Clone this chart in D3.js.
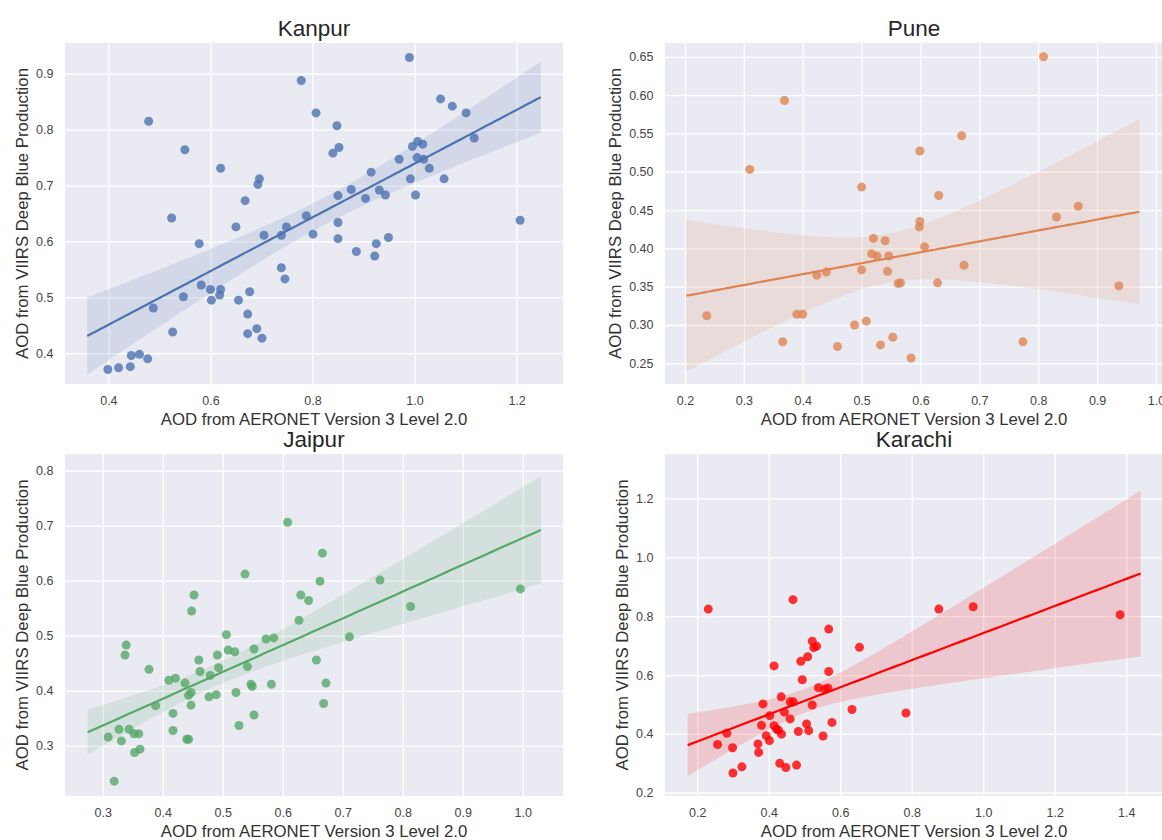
<!DOCTYPE html>
<html>
<head>
<meta charset="utf-8">
<script src="https://cdnjs.cloudflare.com/ajax/libs/d3/7.8.5/d3.min.js"></script>
<style>
    body { margin: 0; background: #ffffff; }
    text { font-family: "Liberation Sans", Arial, sans-serif; }
</style>
</head>
<body>
<div id="chart-area"></div>
<script>
/*
*    regression panels: AERONET vs VIIRS AOD
*/

var kanpurX = [0.399, 0.42, 0.443, 0.445, 0.461, 0.477, 0.479, 0.488, 0.524, 0.526,
    0.547, 0.55, 0.578, 0.582, 0.600, 0.602, 0.620, 0.620, 0.618, 0.650,
    0.655, 0.668, 0.673, 0.677, 0.673, 0.691, 0.701, 0.693, 0.696, 0.705,
    0.739, 0.746, 0.739, 0.749, 0.778, 0.788, 0.801, 0.807, 0.848, 0.840,
    0.852, 0.850, 0.850, 0.850, 0.876, 0.886, 0.904, 0.915, 0.931, 0.943,
    0.925, 0.922, 0.949, 0.970, 0.990, 0.992, 0.996, 1.006, 1.016, 1.005,
    1.018, 1.002, 1.029, 1.058, 1.051, 1.074, 1.101, 1.117, 1.207];
var kanpurY = [0.371, 0.374, 0.376, 0.396, 0.398, 0.390, 0.815, 0.481, 0.642, 0.438,
    0.501, 0.764, 0.596, 0.522, 0.514, 0.495, 0.731, 0.514, 0.504, 0.626,
    0.495, 0.673, 0.470, 0.510, 0.435, 0.444, 0.427, 0.702, 0.712, 0.611,
    0.553, 0.533, 0.611, 0.626, 0.888, 0.646, 0.613, 0.830, 0.807, 0.758,
    0.768, 0.682, 0.634, 0.605, 0.693, 0.582, 0.677, 0.724, 0.692, 0.683,
    0.596, 0.574, 0.607, 0.747, 0.929, 0.712, 0.770, 0.779, 0.774, 0.750,
    0.747, 0.683, 0.731, 0.712, 0.855, 0.842, 0.830, 0.785, 0.638];

var puneX = [0.237, 0.310, 0.369, 0.366, 0.390, 0.400, 0.424, 0.440, 0.459, 0.488,
    0.500, 0.500, 0.508, 0.520, 0.517, 0.526, 0.532, 0.540, 0.546, 0.544,
    0.553, 0.562, 0.566, 0.584, 0.599, 0.599, 0.598, 0.607, 0.631, 0.629,
    0.670, 0.674, 0.774, 0.809, 0.831, 0.868, 0.937];
var puneY = [0.312, 0.503, 0.593, 0.278, 0.314, 0.314, 0.365, 0.369, 0.272, 0.300,
    0.480, 0.372, 0.305, 0.413, 0.393, 0.390, 0.274, 0.410, 0.390, 0.370,
    0.284, 0.354, 0.355, 0.257, 0.527, 0.435, 0.428, 0.402, 0.469, 0.355,
    0.547, 0.378, 0.278, 0.650, 0.441, 0.455, 0.351];

var jaipurX = [0.309, 0.327, 0.331, 0.319, 0.339, 0.337, 0.344, 0.352, 0.360, 0.353,
    0.362, 0.377, 0.388, 0.410, 0.421, 0.417, 0.417, 0.437, 0.440, 0.443,
    0.443, 0.447, 0.447, 0.448, 0.452, 0.460, 0.462, 0.477, 0.479, 0.489,
    0.491, 0.493, 0.506, 0.509, 0.520, 0.522, 0.527, 0.537, 0.541, 0.547,
    0.549, 0.552, 0.552, 0.572, 0.585, 0.581, 0.608, 0.627, 0.630, 0.643,
    0.656, 0.662, 0.666, 0.672, 0.668, 0.711, 0.762, 0.813, 0.996];
var jaipurY = [0.316, 0.330, 0.309, 0.236, 0.483, 0.465, 0.330, 0.322, 0.322, 0.288,
    0.294, 0.439, 0.373, 0.419, 0.423, 0.359, 0.328, 0.414, 0.312, 0.312,
    0.392, 0.397, 0.374, 0.545, 0.574, 0.456, 0.435, 0.389, 0.428, 0.393,
    0.465, 0.442, 0.502, 0.474, 0.471, 0.397, 0.337, 0.612, 0.444, 0.412,
    0.408, 0.476, 0.356, 0.494, 0.496, 0.412, 0.706, 0.528, 0.574, 0.564,
    0.456, 0.599, 0.650, 0.414, 0.377, 0.498, 0.601, 0.553, 0.585];

var karachiX = [0.231, 0.257, 0.283, 0.299, 0.300, 0.325, 0.370, 0.372, 0.384, 0.380,
    0.393, 0.402, 0.403, 0.415, 0.415, 0.422, 0.427, 0.436, 0.435, 0.431,
    0.448, 0.444, 0.460, 0.460, 0.469, 0.468, 0.478, 0.483, 0.494, 0.490,
    0.509, 0.506, 0.512, 0.522, 0.526, 0.534, 0.522, 0.539, 0.552, 0.557,
    0.566, 0.568, 0.568, 0.577, 0.633, 0.654, 0.784, 0.876, 0.972, 1.383];
var karachiY = [0.824, 0.364, 0.402, 0.353, 0.267, 0.288, 0.366, 0.337, 0.502, 0.429,
    0.394, 0.377, 0.462, 0.631, 0.428, 0.416, 0.413, 0.399, 0.526, 0.300,
    0.286, 0.474, 0.451, 0.509, 0.509, 0.856, 0.294, 0.408, 0.584, 0.647,
    0.662, 0.434, 0.411, 0.715, 0.693, 0.698, 0.498, 0.557, 0.393, 0.552,
    0.556, 0.612, 0.756, 0.439, 0.483, 0.694, 0.471, 0.824, 0.832, 0.805];

// axis limits and tick values
var kanpurXLim = [0.315, 1.291], kanpurYLim = [0.345, 0.955];
var puneXLim = [0.166, 1.012], puneYLim = [0.223, 0.668];
var jaipurXLim = [0.237, 1.067], jaipurYLim = [0.209, 0.830];
var karachiXLim = [0.110, 1.503], karachiYLim = [0.189, 1.351];

var kanpurXTicks = [0.4, 0.6, 0.8, 1.0, 1.2];
var kanpurYTicks = [0.4, 0.5, 0.6, 0.7, 0.8, 0.9];
var puneXTicks = [0.2, 0.3, 0.4, 0.5, 0.6, 0.7, 0.8, 0.9, 1.0];
var puneYTicks = [0.25, 0.30, 0.35, 0.40, 0.45, 0.50, 0.55, 0.60, 0.65];
var jaipurXTicks = [0.3, 0.4, 0.5, 0.6, 0.7, 0.8, 0.9, 1.0];
var jaipurYTicks = [0.3, 0.4, 0.5, 0.6, 0.7, 0.8];
var karachiXTicks = [0.2, 0.4, 0.6, 0.8, 1.0, 1.2, 1.4];
var karachiYTicks = [0.2, 0.4, 0.6, 0.8, 1.0, 1.2];

var xLabel = "AOD from AERONET Version 3 Level 2.0";
var yLabel = "AOD from VIIRS Deep Blue Production";

var panels = [
    { title: "Kanpur", xs: kanpurX, ys: kanpurY, color: "#4c72b0", left: 65, top: 43, height: 341,
      xlim: kanpurXLim, ylim: kanpurYLim, xticks: kanpurXTicks, yticks: kanpurYTicks, yfmt: ".1f" },
    { title: "Pune", xs: puneX, ys: puneY, color: "#dd8452", left: 665, top: 43, height: 341,
      xlim: puneXLim, ylim: puneYLim, xticks: puneXTicks, yticks: puneYTicks, yfmt: ".2f" },
    { title: "Jaipur", xs: jaipurX, ys: jaipurY, color: "#55a868", left: 65, top: 454, height: 342,
      xlim: jaipurXLim, ylim: jaipurYLim, xticks: jaipurXTicks, yticks: jaipurYTicks, yfmt: ".1f" },
    { title: "Karachi", xs: karachiX, ys: karachiY, color: "#ff0000", left: 665, top: 454, height: 342,
      xlim: karachiXLim, ylim: karachiYLim, xticks: karachiXTicks, yticks: karachiYTicks, yfmt: ".1f" }
];

var width = 498;

var svg = d3.select("#chart-area").append("svg")
    .attr("width", 1162)
    .attr("height", 840);

// OLS fit, 95% band from HC3 (jackknife-like) variance, close to a pairs bootstrap
function fitLine(xs, ys) {
    var n = xs.length;
    var mx = d3.mean(xs), my = d3.mean(ys);
    var sxx = d3.sum(xs, (x) => (x - mx) * (x - mx));
    var sxy = d3.sum(xs, (x, i) => (x - mx) * (ys[i] - my));
    var b = sxy / sxx, a = my - b * mx;
    var e2 = xs.map((x, i) => {
        var h = 1 / n + (x - mx) * (x - mx) / sxx;
        return Math.pow((ys[i] - a - b * x) / (1 - h), 2);
    });
    var vA = d3.sum(e2) / (n * n);
    var vB = d3.sum(xs, (x, i) => (x - mx) * (x - mx) * e2[i]) / (sxx * sxx);
    var cAB = d3.sum(xs, (x, i) => (x - mx) * e2[i]) / (n * sxx);
    var t = 1.96 + 2.4 / (n - 2);
    var ext = d3.extent(xs);
    var pad = (ext[1] - ext[0]) * 0.05;
    var x0 = ext[0] - pad, x1 = ext[1] + pad;
    return d3.range(101).map((i) => {
        var x = x0 + i * (x1 - x0) / 100;
        var dx = x - mx;
        var yh = a + b * x;
        var se = Math.sqrt(vA + dx * dx * vB + 2 * dx * cAB);
        return { x: x, y: yh, lo: yh - t * se, hi: yh + t * se };
    });
}

panels.forEach((p) => {
    var height = p.height;
    var g = svg.append("g")
        .attr("transform", "translate(" + p.left + ", " + p.top + ")");

    var x = d3.scaleLinear().domain(p.xlim).range([0, width]);
    var y = d3.scaleLinear().domain(p.ylim).range([height, 0]);

    g.append("rect")
        .attr("width", width)
        .attr("height", height)
        .attr("fill", "#eaeaf2");

    // grid + tick labels
    var xAxisGroup = g.append("g")
        .attr("transform", "translate(0, " + height + ")")
        .call(d3.axisBottom(x).tickValues(p.xticks).tickFormat(d3.format(".1f"))
            .tickSize(-height).tickPadding(12.5));

    var yAxisGroup = g.append("g")
        .call(d3.axisLeft(y).tickValues(p.yticks).tickFormat(d3.format(p.yfmt))
            .tickSize(-width).tickPadding(11.5));

    [xAxisGroup, yAxisGroup].forEach((ax) => {
        ax.select(".domain").remove();
        ax.selectAll(".tick line").attr("stroke", "#ffffff").attr("stroke-width", 1.3);
        ax.selectAll(".tick text")
            .attr("fill", "#444444")
            .style("font-size", "12.5px")
            .style("font-family", "'Liberation Sans', Arial, sans-serif");
    });

    var fit = fitLine(p.xs, p.ys);

    g.append("path")
        .datum(fit)
        .attr("fill", p.color)
        .attr("fill-opacity", 0.15)
        .attr("d", d3.area().x((d) => x(d.x)).y0((d) => y(d.lo)).y1((d) => y(d.hi)));

    var pts = p.xs.map((v, i) => ({ x: v, y: p.ys[i] }));

    g.selectAll("circle").data(pts).enter().append("circle")
        .attr("cx", (d) => x(d.x))
        .attr("cy", (d) => y(d.y))
        .attr("r", 4.5)
        .attr("fill", p.color)
        .attr("fill-opacity", 0.8);

    g.append("path")
        .datum(fit)
        .attr("fill", "none")
        .attr("stroke", p.color)
        .attr("stroke-width", 2.2)
        .attr("d", d3.line().x((d) => x(d.x)).y((d) => y(d.y)));

    // labels
    g.append("text")
        .attr("x", width / 2)
        .attr("y", -7.5)
        .attr("text-anchor", "middle")
        .style("fill", "#262626")
        .style("font-size", "22.5px")
        .text(p.title);

    g.append("text")
        .attr("x", width / 2)
        .attr("y", height + 40.5)
        .attr("text-anchor", "middle")
        .style("fill", "#333333")
        .style("font-size", "16.8px")
        .text(xLabel);

    var tickLeft = d3.min(yAxisGroup.selectAll(".tick text").nodes(), (n) => n.getBBox().x);

    g.append("text")
        .attr("x", -(height / 2))
        .attr("y", tickLeft - 8.5)
        .attr("text-anchor", "middle")
        .attr("transform", "rotate(-90)")
        .style("fill", "#333333")
        .style("font-size", "16.8px")
        .text(yLabel);
});
</script>
</body>
</html>
